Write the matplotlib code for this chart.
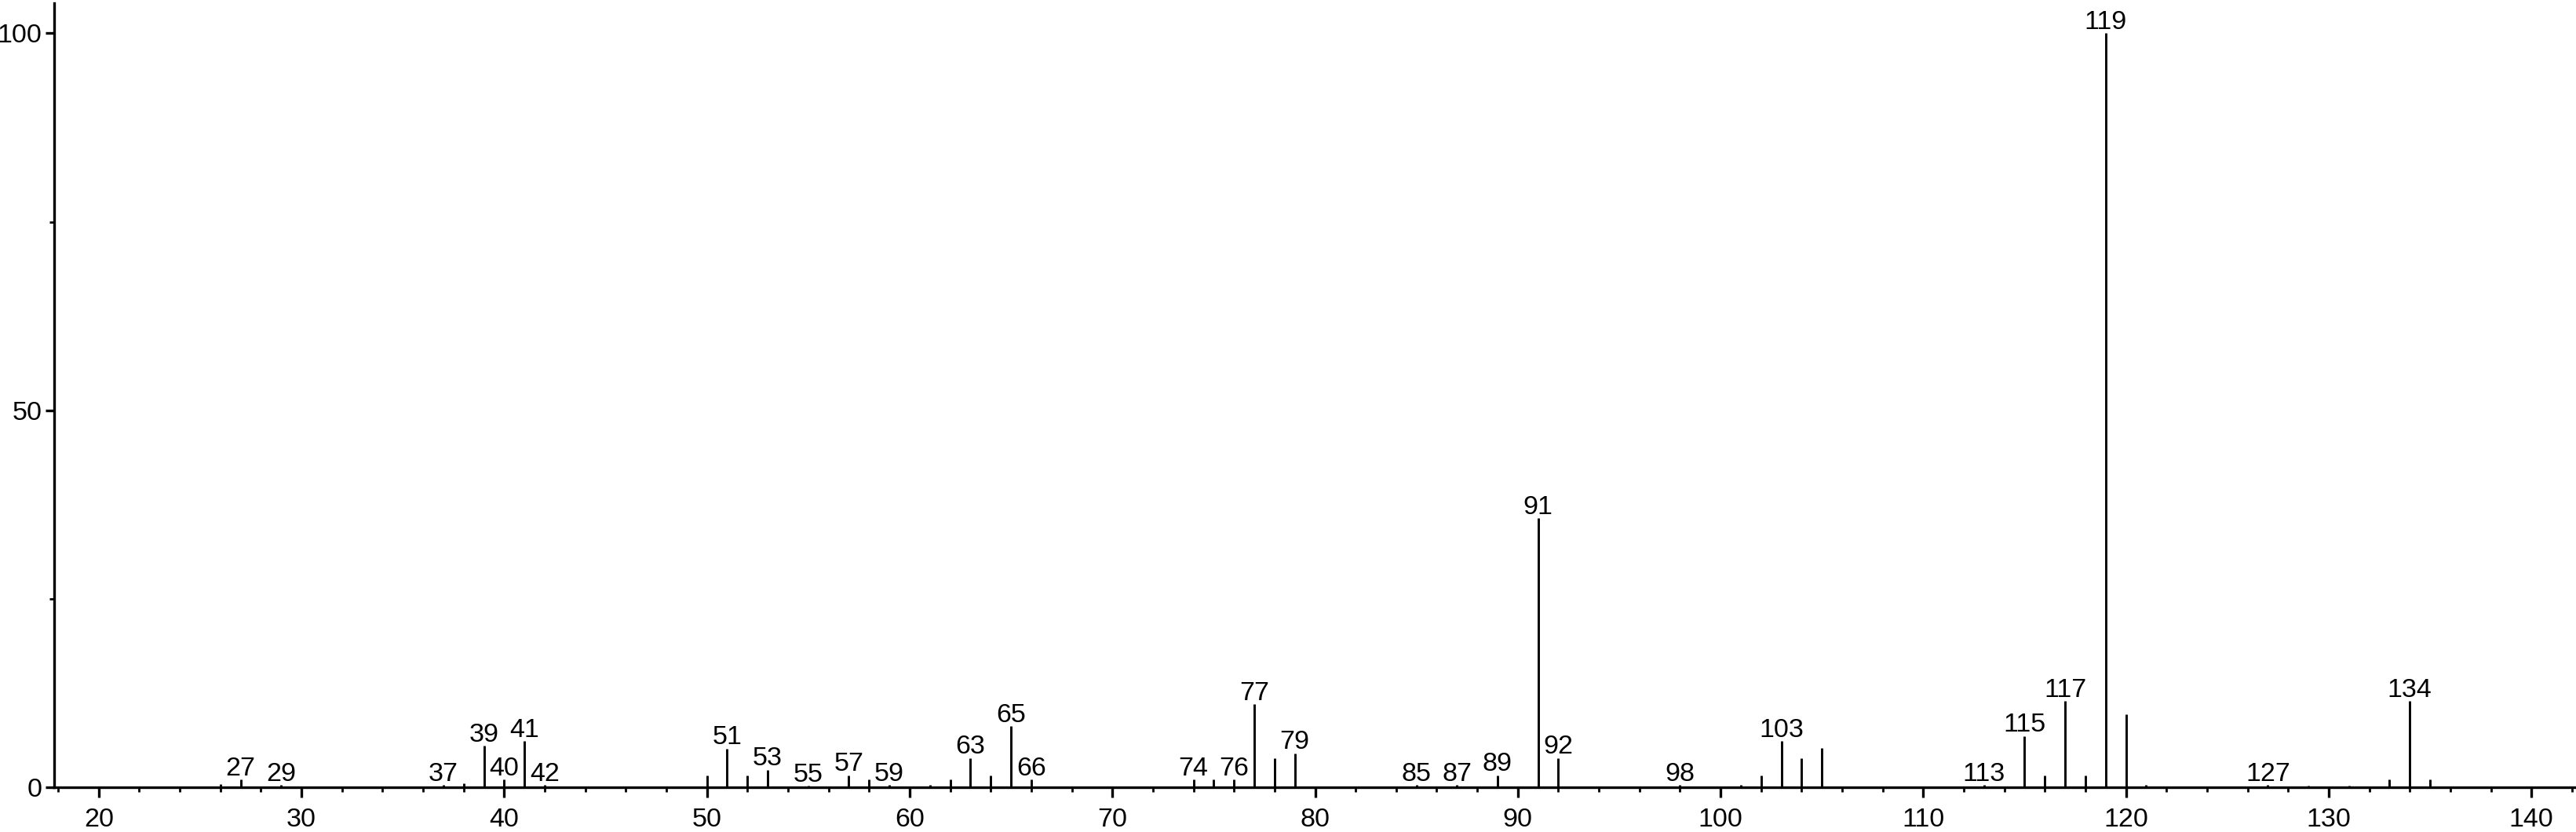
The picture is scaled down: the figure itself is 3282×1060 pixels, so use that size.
import matplotlib
matplotlib.use("Agg")
import matplotlib.pyplot as plt
from matplotlib.ticker import MultipleLocator, FixedLocator

plt.rcParams['font.family'] = ['Liberation Sans', 'DejaVu Sans']

# m/z values and relative intensities (%)
mz = [26, 27, 29, 37, 38, 39, 40, 41, 42,
      50, 51, 52, 53, 55, 57, 58, 59, 61, 62, 63, 64, 65, 66,
      74, 75, 76, 77, 78, 79, 85, 87, 89, 91, 92, 98,
      101, 102, 103, 104, 105, 113, 115, 116, 117, 118, 119, 120, 121,
      127, 129, 131, 133, 134, 135]
intensity = [0.4, 1.0, 0.3, 0.3, 0.5, 5.5, 1.0, 6.1, 0.3,
             1.6, 5.1, 1.6, 2.3, 0.2, 1.6, 1.0, 0.3, 0.3, 1.0, 3.9, 1.6, 8.1, 1.0,
             1.0, 1.0, 1.0, 11.0, 3.9, 4.5, 0.3, 0.3, 1.6, 35.7, 3.9, 0.3,
             0.3, 1.6, 6.1, 3.9, 5.2, 0.3, 6.8, 1.6, 11.4, 1.6, 100.0, 9.7, 0.3,
             0.3, 0.2, 0.2, 1.0, 11.4, 1.0]
labeled = [27, 29, 37, 39, 40, 41, 42, 51, 53, 55, 57, 59, 63, 65, 66,
           74, 76, 77, 79, 85, 87, 89, 91, 92, 98, 103, 113, 115, 117,
           119, 127, 134]

y_ticks = [0, 50, 100]

W, H = 3282, 1060
dpi = 100
fig = plt.figure(figsize=(W / dpi, H / dpi), dpi=dpi)
ax = fig.add_axes([69 / W, (H - 1003) / H, (W - 69) / W, (1003 - 4) / H])

ax.vlines(mz, 0, intensity, color='black', linewidth=2.1)

for m, v in zip(mz, intensity):
    if m in labeled:
        ax.annotate(str(m), (m, v), xytext=(0, 4), textcoords='offset points',
                    ha='center', va='baseline', fontsize=24.5, color='black')

ax.set_xlim(17.8, 142.2)
ax.set_ylim(0, 104)

for s in ['top', 'right']:
    ax.spines[s].set_visible(False)
for s in ['left', 'bottom']:
    ax.spines[s].set_linewidth(2.4)
    ax.spines[s].set_color('black')

ax.xaxis.set_major_locator(MultipleLocator(10))
ax.xaxis.set_minor_locator(MultipleLocator(2))
ax.yaxis.set_major_locator(FixedLocator(y_ticks))
ax.yaxis.set_minor_locator(FixedLocator([25, 75]))

ax.tick_params(axis='x', which='major', direction='out', length=9, width=2.4,
               labelsize=24.5, pad=10)
ax.tick_params(axis='x', which='minor', direction='out', length=4.5, width=2.0)
ax.tick_params(axis='y', which='major', direction='out', length=8, width=2.4,
               labelsize=24.5, pad=3)
ax.tick_params(axis='y', which='minor', direction='out', length=4, width=2.0)

fig.savefig('out.png', dpi=dpi, facecolor='white')
